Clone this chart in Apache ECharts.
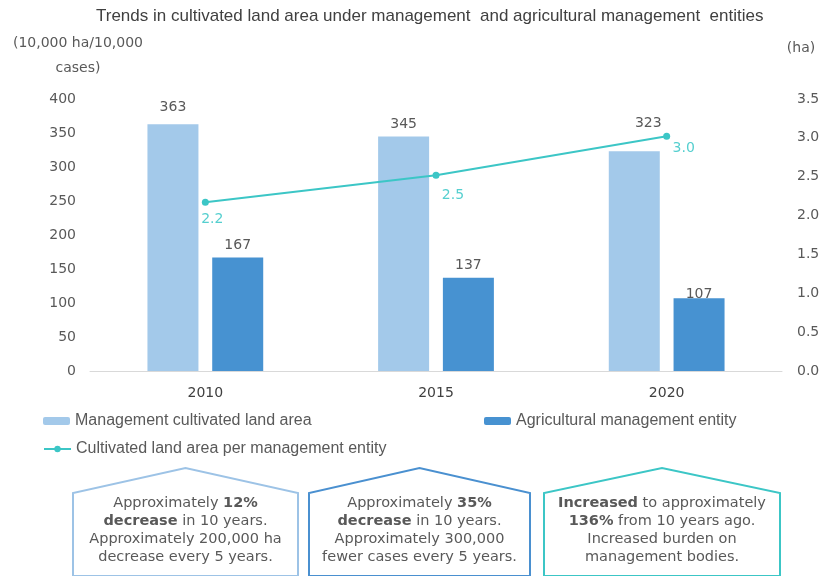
<!DOCTYPE html>
<html lang="en" style="height: 100%">
<head>
<meta charset="utf-8">
<title>Cultivated land area and management entities</title>
</head>
<body style="height: 100%; margin: 0">
<div id="container" style="width: 829px; height: 576px"></div>

<script type="text/javascript" src="https://cdn.jsdelivr.net/npm/echarts@6/dist/echarts.min.js"></script>

<script type="text/javascript">
var years = ['2010', '2015', '2020'];
var landArea = [363, 345, 323];          // 10,000 ha
var entities = [167, 137, 107];          // 10,000 cases
var areaPerEntity = [2.17, 2.52, 3.02];  // ha
var leftTicks = [0, 50, 100, 150, 200, 250, 300, 350, 400];
var rightTicks = [0, 0.5, 1, 1.5, 2, 2.5, 3, 3.5];

var names = [
    'Management cultivated land area',
    'Agricultural management entity',
    'Cultivated land area per management entity'
];

var dom = document.getElementById('container');
var myChart = echarts.init(dom, null, { renderer: 'canvas' });

var txt = '#595959';
var box = 'DejaVu Sans';
var narrow = 'Liberation Sans';

// label tweaks so the numbers sit where the original put them
var landLabelPos = [[0, -5], [0, 0], [14, -16]];
var entLabelPos = [[0, 0], [0, 0], [0, 8]];
var lineLabelPos = [[7, 1], [17, 5], [17, -3]];

function legendOf(name, left, top) {
    return {
        data: [name],
        left: left,
        top: top,
        itemWidth: 27,
        itemHeight: 8,
        itemGap: 0,
        padding: 0,
        textStyle: { color: txt, fontSize: 16, fontFamily: narrow }
    };
}

function houseBox(left, right, color, textLines) {
    var mid = (left + right) / 2;
    return [
        {
            type: 'polygon',
            shape: { points: [[left, 576], [left, 493], [mid, 468], [right, 493], [right, 576]] },
            style: { fill: '#fff', stroke: color, lineWidth: 2 }
        },
        {
            type: 'text',
            x: mid,
            y: 494,
            style: {
                text: textLines,
                align: 'center',
                verticalAlign: 'top',
                fill: txt,
                font: '14.5px "DejaVu Sans"',
                lineHeight: 18,
                rich: {
                    n: { fontSize: 14.5, fontFamily: box, color: txt, lineHeight: 18 },
                    b: { fontSize: 14.5, fontFamily: box, color: '#404040', fontWeight: 'bold', lineHeight: 18 }
                }
            }
        }
    ];
}

var option = {
    backgroundColor: '#fff',
    title: {
        text: 'Trends in cultivated land area under management  and agricultural management  entities',
        left: 91,
        top: 3,
        textStyle: { color: '#404040', fontSize: 17, fontWeight: 'normal', fontFamily: narrow }
    },
    legend: [
        legendOf(names[0], 43, 413),
        legendOf(names[1], 484, 413),
        legendOf(names[2], 43, 441)
    ],
    grid: { left: 90, right: 47, top: 99, bottom: 205 },
    xAxis: {
        type: 'category',
        data: years,
        axisTick: { show: false },
        axisLine: { lineStyle: { color: '#D9D9D9' } },
        axisLabel: { color: '#404040', fontSize: 14, fontFamily: box, margin: 15 }
    },
    yAxis: [
        {
            type: 'value',
            min: leftTicks[0],
            max: leftTicks[leftTicks.length - 1],
            interval: 50,
            name: '(10,000 ha/10,000\ncases)',
            nameGap: 18,
            nameTextStyle: {
                color: txt, fontSize: 14, fontFamily: box,
                lineHeight: 25, align: 'center', padding: [0, 24, 0, 0]
            },
            splitLine: { show: false },
            axisLabel: { color: txt, fontSize: 14, fontFamily: box, margin: 14 }
        },
        {
            type: 'value',
            min: rightTicks[0],
            max: rightTicks[rightTicks.length - 1],
            interval: 0.5,
            name: '(ha)',
            nameGap: 44,
            nameTextStyle: {
                color: txt, fontSize: 14, fontFamily: box,
                align: 'center', padding: [0, 0, 0, 38]
            },
            splitLine: { show: false },
            axisLabel: {
                color: txt, fontSize: 14, fontFamily: box, margin: 15,
                formatter: function (v) { return v.toFixed(1); }
            }
        }
    ],
    series: [
        {
            name: names[0],
            type: 'bar',
            barWidth: 51,
            barGap: '27%',
            itemStyle: { color: '#A3C9EA' },
            data: landArea.map(function (v, i) {
                return { value: v, label: { offset: landLabelPos[i] } };
            }),
            label: { show: true, position: 'top', color: txt, fontSize: 14, fontFamily: box }
        },
        {
            name: names[1],
            type: 'bar',
            barWidth: 51,
            itemStyle: { color: '#4792D1' },
            data: entities.map(function (v, i) {
                return { value: v, label: { offset: entLabelPos[i] } };
            }),
            label: { show: true, position: 'top', color: txt, fontSize: 14, fontFamily: box }
        },
        {
            name: names[2],
            type: 'line',
            yAxisIndex: 1,
            symbol: 'circle',
            symbolSize: 7,
            itemStyle: { color: '#3CC6C6' },
            lineStyle: { color: '#3CC6C6', width: 2 },
            data: areaPerEntity.map(function (v, i) {
                return { value: v, label: { offset: lineLabelPos[i] } };
            }),
            label: {
                show: true,
                position: 'bottom',
                color: '#55CFCF',
                fontSize: 14,
                fontFamily: box,
                formatter: function (p) { return p.value.toFixed(1); }
            }
        }
    ],
    graphic: [].concat(
        houseBox(73, 298, '#9DC3E6',
            '{n|Approximately }{b|12%}\n{b|decrease}{n| in 10 years.}\n{n|Approximately 200,000 ha}\n{n|decrease every 5 years.}'),
        houseBox(309, 530, '#4A90D0',
            '{n|Approximately }{b|35%}\n{b|decrease}{n| in 10 years.}\n{n|Approximately 300,000}\n{n|fewer cases every 5 years.}'),
        houseBox(544, 780, '#3CC6C6',
            '{b|Increased}{n| to approximately}\n{b|136%}{n| from 10 years ago.}\n{n|Increased burden on}\n{n|management bodies.}')
    )
};

myChart.setOption(option);
window.addEventListener('resize', myChart.resize);
</script>
</body>
</html>
